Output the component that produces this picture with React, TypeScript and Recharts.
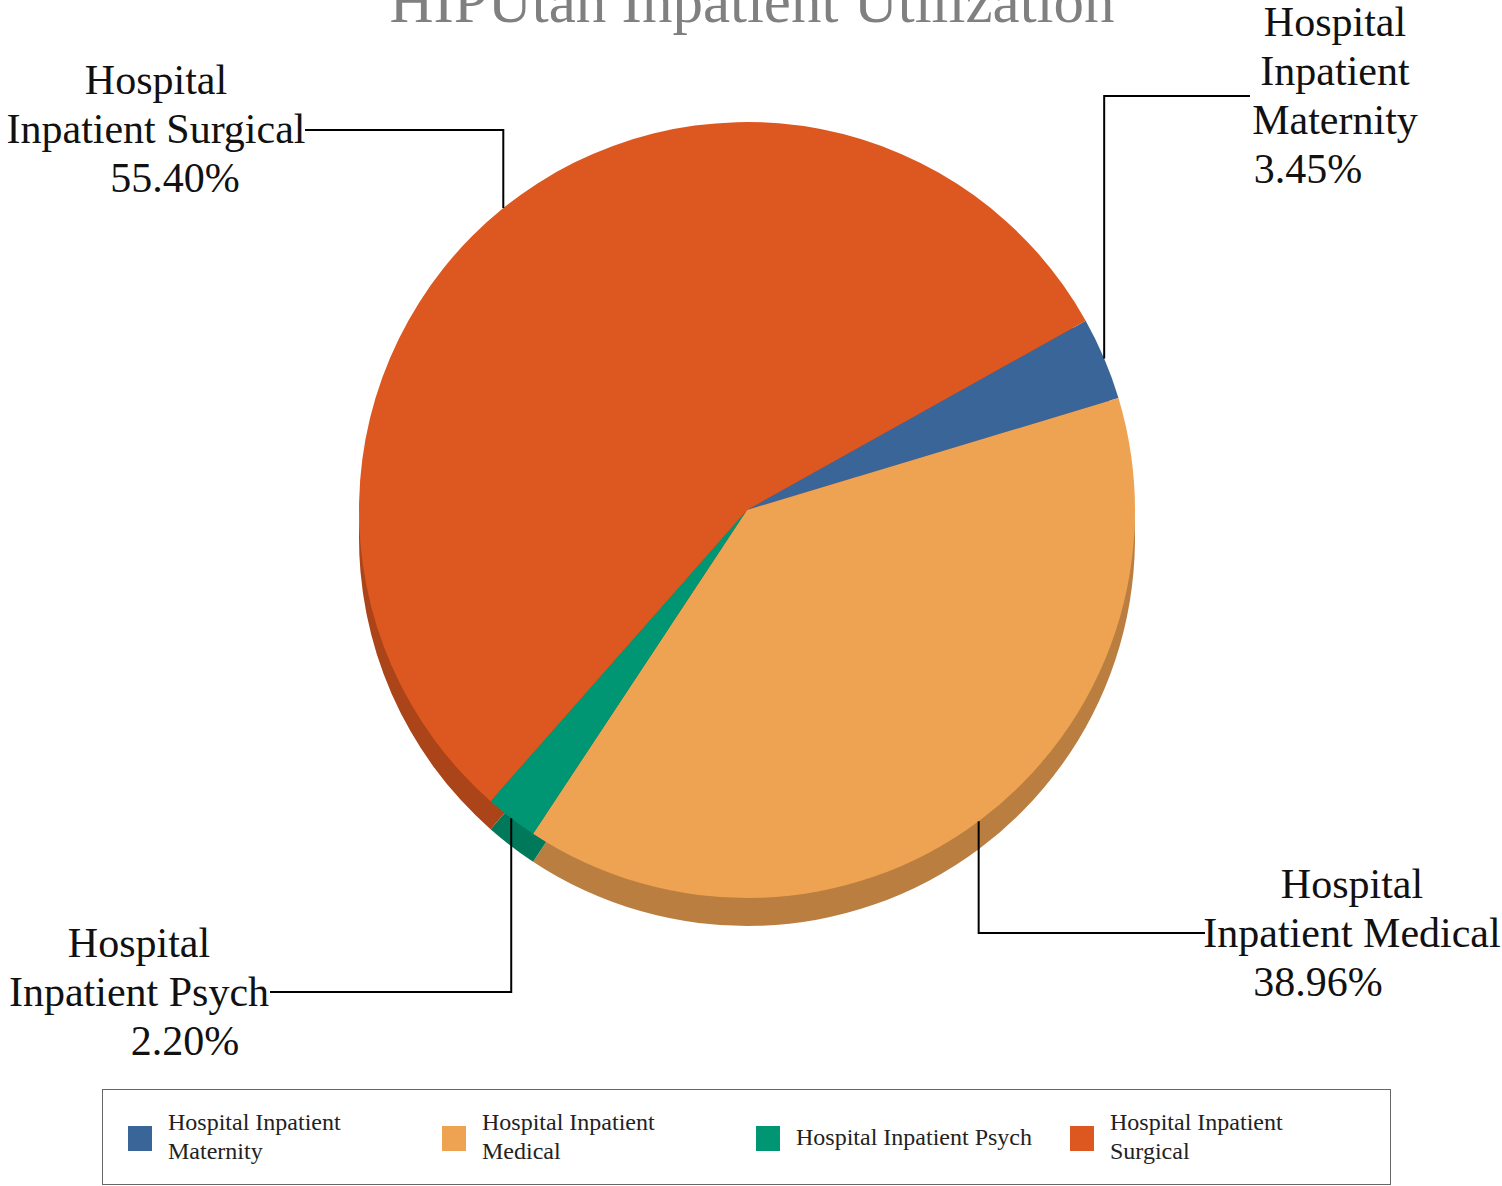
import React from "react"
import { PieChart, Pie, Cell, Legend } from "recharts"

// chart values
const categories = [
  "Hospital Inpatient Maternity",
  "Hospital Inpatient Medical",
  "Hospital Inpatient Psych",
  "Hospital Inpatient Surgical",
]
const shares = [3.45, 38.96, 2.2, 55.4]
const colors = ["#3A6599", "#EEA353", "#009673", "#DD5820"]
const sideColors = ["#2B4C74", "#BA7F40", "#00785A", "#AC4419"]
const title = "HIPUtah Inpatient Utilization"

// label text split into lines, as in the reference
const labelLines = [
  ["Hospital", "Inpatient", "Maternity"],
  ["Hospital", "Inpatient Medical"],
  ["Hospital", "Inpatient Psych"],
  ["Hospital", "Inpatient Surgical"],
]

// where each callout goes
const labelLayout = [
  { lineY: 96, endX: 1250, textX: 1335, top: 36, pctX: 1308 },
  { lineY: 933, endX: 1205, textX: 1352, top: 898, pctX: 1318 },
  { lineY: 992, endX: 270, textX: 139, top: 957, pctX: 185 },
  { lineY: 130, endX: 305, textX: 156, top: 94, pctX: 175 },
]

const data = categories.map((name, i) => ({ name, value: shares[i] }))

const RADIAN = Math.PI / 180
const START = 29.2
const FONT = "'Liberation Serif', 'DejaVu Serif', serif"

const renderLabel = (props: any) => {
  const { cx, cy, outerRadius, midAngle, index, value } = props
  const lay = labelLayout[index]
  const x0 = cx + outerRadius * Math.cos(-midAngle * RADIAN)
  const y0 = cy + outerRadius * Math.sin(-midAngle * RADIAN)
  const lines = labelLines[index]
  return (
    <g key={`lbl-${index}`}>
      <polyline
        points={`${x0},${y0} ${x0},${lay.lineY} ${lay.endX},${lay.lineY}`}
        fill="none"
        stroke="#000"
        strokeWidth={2}
      />
      {lines.map((t, k) => (
        <text key={k} x={lay.textX} y={lay.top + k * 49} textAnchor="middle" fontSize={42} fontFamily={FONT} fill="#111">
          {t}
        </text>
      ))}
      <text x={lay.pctX} y={lay.top + lines.length * 49} textAnchor="middle" fontSize={42} fontFamily={FONT} fill="#111">
        {Number(value).toFixed(2)}%
      </text>
    </g>
  )
}

const legendLines = [
  ["Hospital Inpatient", "Maternity"],
  ["Hospital Inpatient", "Medical"],
  ["Hospital Inpatient Psych"],
  ["Hospital Inpatient", "Surgical"],
]

const CustomLegend = () => (
  <div
    style={{
      width: 1287,
      height: 94,
      border: "1px solid #666",
      position: "relative",
      fontFamily: FONT,
      boxSizing: "content-box",
    }}
  >
    {categories.map((c, i) => (
      <div key={c} style={{ position: "absolute", left: 25 + i * 314, top: 0, height: 94 }}>
        <div style={{ position: "absolute", left: 0, top: 36, width: 24, height: 25, background: colors[i] }} />
        <div
          style={{
            position: "absolute",
            left: 40,
            top: legendLines[i].length === 1 ? 33 : 18,
            fontSize: 24,
            lineHeight: "29px",
            color: "#222",
            whiteSpace: "nowrap",
          }}
        >
          {legendLines[i].map((t) => (
            <div key={t}>{t}</div>
          ))}
        </div>
      </div>
    ))}
  </div>
)

export default function App() {
  return (
    <div style={{ position: "absolute", left: 0, top: 0, width: 1502, height: 1186, background: "#fff" }}>
      <PieChart width={1502} height={1186}>
        <text x={752} y={22} textAnchor="middle" fontSize={61} fontFamily={FONT} fill="#808080">
          {title}
        </text>
        {/* side wall of the pie */}
        <Pie
          data={data}
          dataKey="value"
          cx={742}
          cy={533}
          outerRadius={388}
          startAngle={START}
          endAngle={START - 360}
          stroke="none"
          isAnimationActive={false}
          legendType="none"
        >
          {data.map((d, i) => (
            <Cell key={d.name} fill={sideColors[i]} />
          ))}
        </Pie>
        <Pie
          data={data}
          dataKey="value"
          cx={742}
          cy={505}
          outerRadius={388}
          startAngle={START}
          endAngle={START - 360}
          stroke="none"
          isAnimationActive={false}
          label={renderLabel}
          labelLine={false}
        >
          {data.map((d, i) => (
            <Cell key={d.name} fill={colors[i]} />
          ))}
        </Pie>
        <Legend
          content={<CustomLegend />}
          wrapperStyle={{ position: "absolute", left: 102, top: 1089, width: 1289 }}
        />
      </PieChart>
    </div>
  )
}
